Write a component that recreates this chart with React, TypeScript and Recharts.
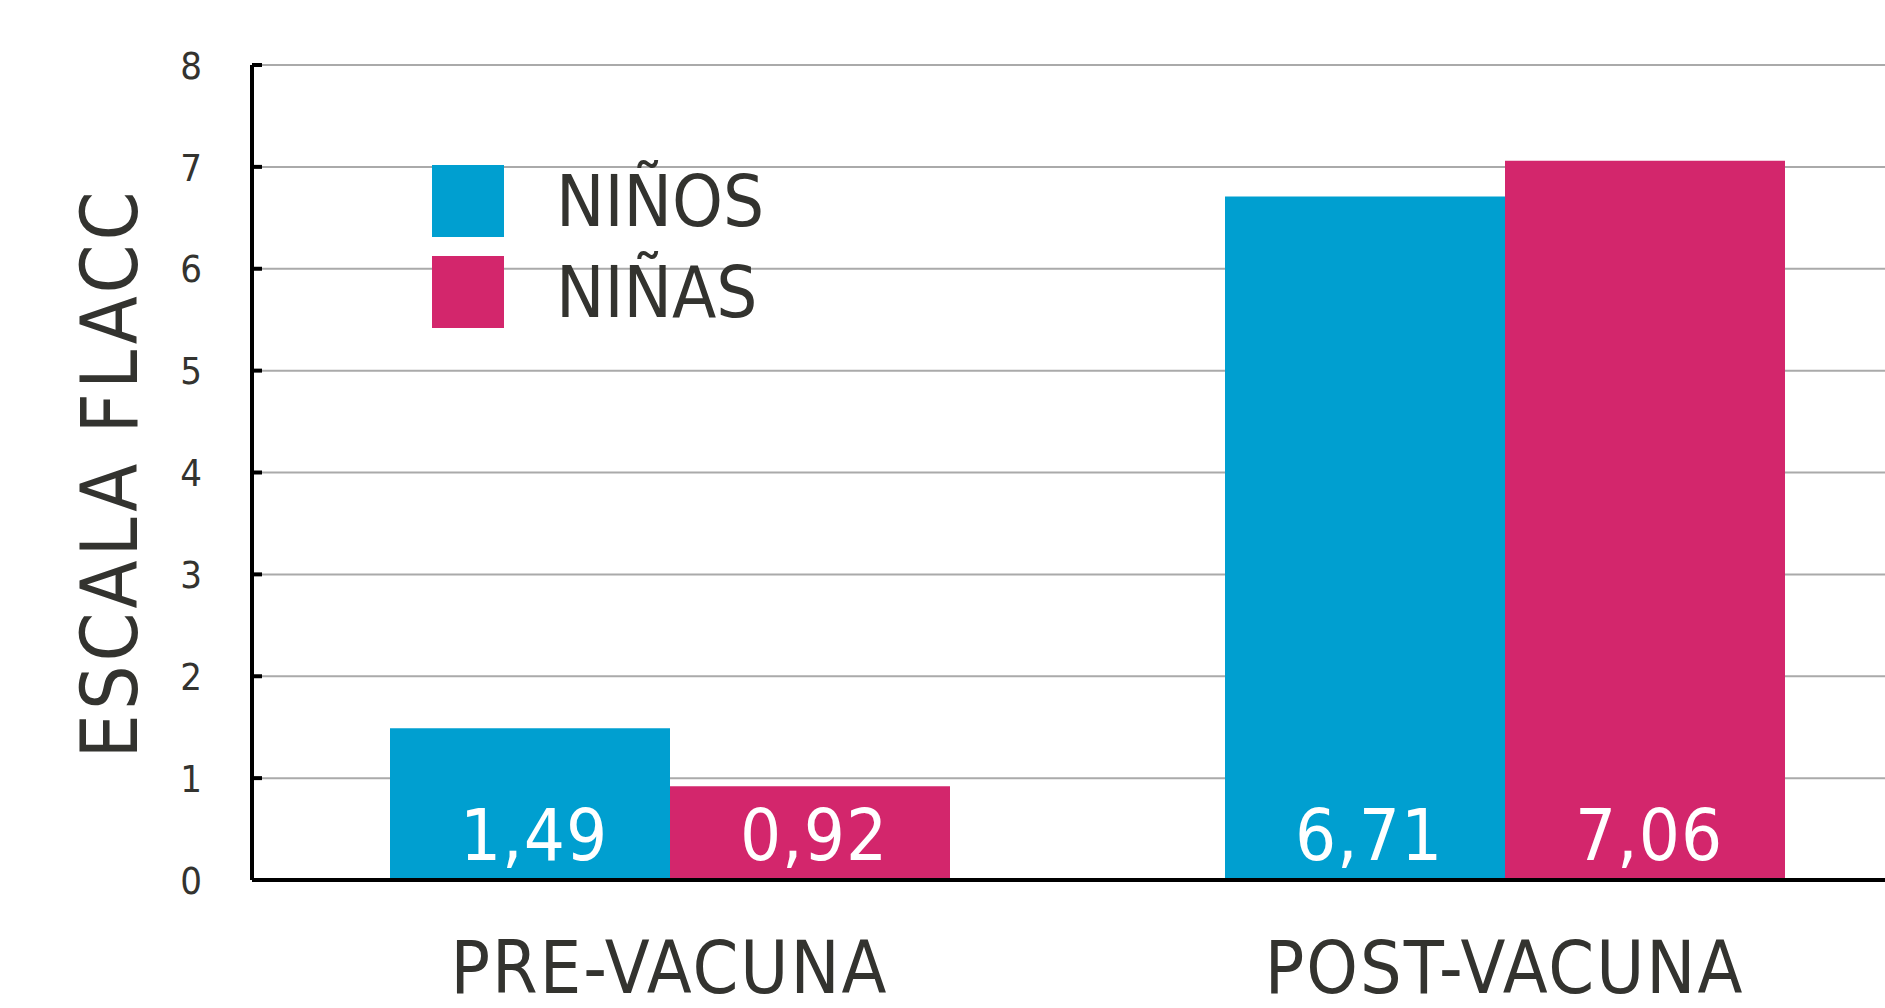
import { BarChart, Bar, XAxis, YAxis, CartesianGrid, Legend, LabelList } from 'recharts'

const categories = ['PRE-VACUNA', 'POST-VACUNA']
const ninos = [1.49, 6.71]
const ninas = [0.92, 7.06]
const yTicks = [0, 1, 2, 3, 4, 5, 6, 7, 8]

const BLUE = '#009fd0'
const PINK = '#d3266c'
const INK = '#33332f'
const FONT = '"DejaVu Sans Condensed", "DejaVu Sans", sans-serif'

const data = categories.map((name, i) => ({ name, ninos: ninos[i], ninas: ninas[i] }))

const fmt = (v: number) => v.toFixed(2).replace('.', ',')

function YTick({ x, y, payload }: any) {
  return (
    <g>
      <line x1={x} x2={x + 10} y1={y} y2={y} stroke="#000" strokeWidth={4} />
      <text x={x - 61} y={y} dy="0.36em" textAnchor="middle" fill={INK}
        style={{ fontFamily: FONT, fontStretch: 'condensed', fontSize: 38 }}>
        {payload.value}
      </text>
    </g>
  )
}

function XTick({ x, y, payload }: any) {
  return (
    <text x={x} y={y + 113} textAnchor="middle" fill={INK}
      style={{ fontFamily: FONT, fontStretch: 'condensed', fontSize: 73, letterSpacing: 2 }}>
      {payload.value}
    </text>
  )
}

function ValueLabel({ x, y, width, height, value }: any) {
  const bottom = y + height
  return (
    <text x={x + width / 2 + 4} y={bottom - 20} textAnchor="middle" fill="#fff"
      style={{ fontFamily: FONT, fontStretch: 'condensed', fontSize: 72, letterSpacing: 1 }}>
      {fmt(value)}
    </text>
  )
}

function AxisTitle() {
  return (
    <text x={137} y={473} transform="rotate(-90, 137, 473)" textAnchor="middle" fill={INK}
      style={{ fontFamily: FONT, fontStretch: 'condensed', fontSize: 78, letterSpacing: 4 }}>
      ESCALA FLACC
    </text>
  )
}

function LegendBox() {
  const items = [
    { label: 'NIÑOS', color: BLUE },
    { label: 'NIÑAS', color: PINK }
  ]
  return (
    <div style={{ display: 'flex', flexDirection: 'column', gap: 19 }}>
      {items.map((it) => (
        <div key={it.label} style={{ display: 'flex', alignItems: 'center', height: 72 }}>
          <div style={{ width: 72, height: 72, background: it.color }} />
          <span style={{ marginLeft: 52, fontFamily: FONT, fontStretch: 'condensed', fontSize: 72, lineHeight: '72px', color: INK }}>
            {it.label}
          </span>
        </div>
      ))}
    </div>
  )
}

export default function App() {
  return (
    <div style={{ position: 'fixed', left: 0, top: 0, width: 1885, height: 1008, overflow: 'hidden', background: '#fff' }}>
      <BarChart width={1930} height={1008} data={data}
        margin={{ top: 65, right: 8, bottom: 0, left: 0 }}
        barCategoryGap={138} barGap={0}>
        <CartesianGrid vertical={false} stroke="#aaaaaa" strokeWidth={2} />
        <Bar dataKey="ninos" fill={BLUE} isAnimationActive={false}>
          <LabelList dataKey="ninos" content={<ValueLabel />} />
        </Bar>
        <Bar dataKey="ninas" fill={PINK} isAnimationActive={false}>
          <LabelList dataKey="ninas" content={<ValueLabel />} />
        </Bar>
        <XAxis dataKey="name" height={128} axisLine={{ stroke: '#000', strokeWidth: 4 }}
          tickLine={false} tickSize={0} tickMargin={0} tick={<XTick />} />
        <YAxis width={252} domain={[0, 8]} ticks={yTicks} axisLine={{ stroke: '#000', strokeWidth: 4 }}
          tickLine={false} tickSize={0} tickMargin={0} tick={<YTick />}
          label={<AxisTitle />} />
        <Legend layout="vertical" align="center" verticalAlign="middle"
          wrapperStyle={{ left: 432, top: 165, width: 'auto', height: 'auto' }}
          content={<LegendBox />} />
      </BarChart>
    </div>
  )
}
